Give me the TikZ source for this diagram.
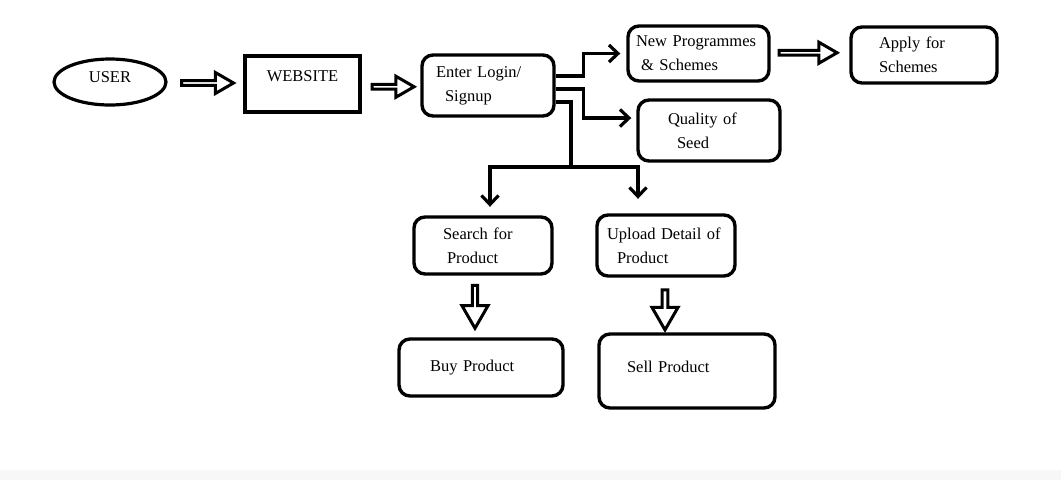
\documentclass[tikz,border=0pt]{standalone}
\usepackage{fontspec}
\setmainfont{Liberation Serif}
\usetikzlibrary{positioning, calc, arrows.meta, shapes.geometric, shapes.arrows}

\tikzset{
  box/.style={draw, line width=3.4pt, rounded corners=11pt, align=left, inner sep=0pt},
  bigarrow/.style={single arrow, draw, line width=3pt, inner sep=0pt,
    single arrow head extend=5pt, single arrow tip angle=60, minimum width=21pt},
  conn/.style={line width=3.2pt, -{Straight Barb[length=9pt, width=17pt]}},
}

\begin{document}
\begin{tikzpicture}[x=1pt, y=-1pt, font=\fontsize{16.5pt}{24pt}\selectfont]
  \useasboundingbox (0,0) rectangle (1061,480);
  \fill[black!3] (0,470) rectangle (1061,480);

  % boxes
  \node[draw, ellipse, line width=3.2pt, minimum width=112pt, minimum height=46pt, inner sep=0pt] (user) at (110,82) {\raisebox{10pt}{USER}\hspace{25pt}};
  \node[draw, line width=3.4pt, minimum width=115pt, minimum height=56pt, text depth=16pt] (web) at (302.5,84) {WEBSITE};
  \node[box, minimum width=132pt, minimum height=61pt, text width=104pt] (login) at (488,85.5) {Enter Login/\\\hspace*{9pt}Signup};
  \node[box, minimum width=141pt, minimum height=55pt, text width=125pt] (newp) at (698.5,53.5) {New Programmes\\\hspace*{5pt}\& Schemes};
  \node[box, minimum width=146pt, minimum height=56pt, text width=90pt] (apply) at (924,55) {Apply for\\Schemes};
  \node[box, minimum width=142pt, minimum height=61pt, text width=82pt] (qual) at (709,130.5) {Quality of\\\hspace*{9pt}Seed};
  \node[box, minimum width=138pt, minimum height=57pt, text width=80pt] (search) at (483,245.5) {Search for\\\hspace*{4pt}Product};
  \node[box, minimum width=138pt, minimum height=61pt, text width=118pt] (upload) at (666,245.5) {Upload Detail of\\\hspace*{10pt}Product};
  \node[box, minimum width=164pt, minimum height=57pt, text width=102pt] (buy) at (481,367.5) {Buy Product};
  \node[box, minimum width=176pt, minimum height=74pt, text width=120pt, text depth=8pt] (sell) at (687,371) {Sell Product};

  % hollow arrows
  \node[bigarrow, minimum height=52pt] (a1) at ($(user.east)!.5!(web.west)$) {};
  \node[bigarrow, minimum height=42pt, yshift=-2pt] (a2) at ($(web.east)!.5!(login.west)$) {};
  \node[bigarrow, minimum height=58pt, xshift=-4pt, yshift=1.5pt] (a3) at ($(newp.east)!.5!(apply.west)$) {};
  \node[bigarrow, xshift=-7pt, yshift=2pt, rotate=-90, minimum height=43pt, minimum width=26pt, single arrow head extend=6pt] (d1) at ($(search.south)!.5!(buy.north)$) {};
  \node[bigarrow, xshift=-11.5pt, yshift=-2.5pt, rotate=-90, minimum height=40pt, minimum width=26pt, single arrow head extend=5.5pt] (d2) at ($(upload.south)!.5!(sell.north)$) {};

  % connectors
  \coordinate (fork) at (571,167);
  \draw[conn] ([yshift=9.5pt]login.east) -- ++(28pt,0) |- ([xshift=-6pt]newp.west);
  \draw[conn] ([yshift=-3.5pt]login.east) -- ++(28pt,0) |- ([xshift=-5pt,yshift=12.5pt]qual.west);
  \draw[line width=3.2pt] ([yshift=-16.5pt]login.east) -| (fork);
  \draw[conn] (fork) -| ([xshift=7pt,yshift=8.5pt]search.north);
  \draw[conn] (fork) -| ([xshift=-28pt,yshift=14.5pt]upload.north);
\end{tikzpicture}
\end{document}
